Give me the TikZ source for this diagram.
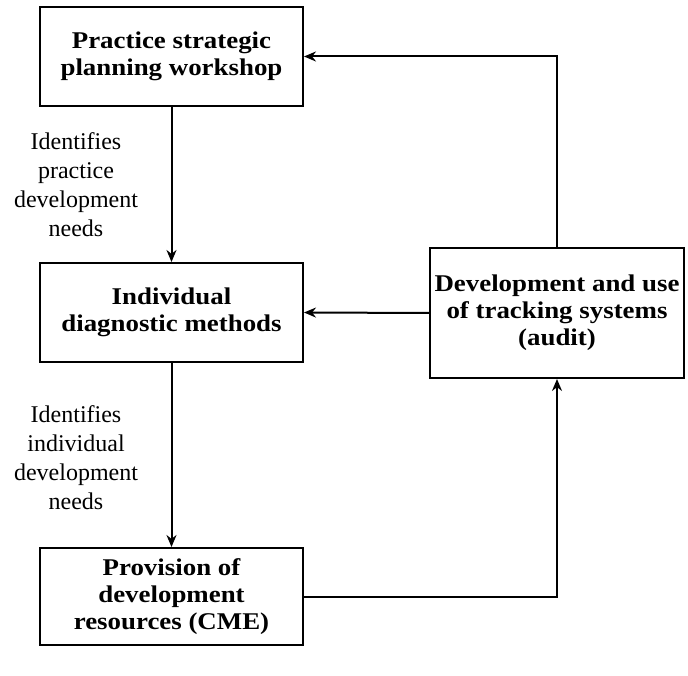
\documentclass[tikz,border=0pt]{standalone}
\usepackage{fontspec}
\setmainfont{Liberation Serif}
\newfontfamily\boxfont{Liberation Serif}[FakeStretch=1.12]
\usepackage{tikz}
\usetikzlibrary{arrows.meta}

\begin{document}
\begin{tikzpicture}[x=1pt,y=1pt,>={Stealth[length=12pt,width=10pt]},
    box/.style={draw,line width=2pt,align=center,minimum width=263pt,
      font=\fontsize{24}{27}\boxfont\bfseries},
    note/.style={align=center,font=\fontsize{24}{29}\selectfont},
    link/.style={line width=2pt,->}]
  \useasboundingbox (0,0) rectangle (688,675);
  % boxes
  \node[box,minimum height=99pt] (workshop) at (171.5,618.5)
    {Practice strategic\\planning workshop};
  \node[box,minimum height=99pt] (diagnostic) at (171.5,362.5)
    {Individual\\diagnostic methods};
  \node[box,minimum width=254pt,minimum height=130pt] (tracking) at (557,362)
    {Development and use\\of tracking systems\\(audit)};
  \node[box,minimum height=97pt] (provision) at (171.5,78.5)
    {Provision of\\development\\resources (CME)};

  % labels
  \node[note] (practiceneeds) at (76,490)
    {Identifies\\practice\\development\\needs};
  \node[note] (individualneeds) at (76,217)
    {Identifies\\individual\\development\\needs};

  % connectors
  \draw[link] (workshop) -- (diagnostic);
  \draw[link] (diagnostic) -- (provision);
  \draw[link] (provision.east) -| (tracking.south);
  \draw[link] (tracking.west) -- (diagnostic.east);
  \draw[link] (tracking.north) |- (workshop.east);
\end{tikzpicture}
\end{document}
